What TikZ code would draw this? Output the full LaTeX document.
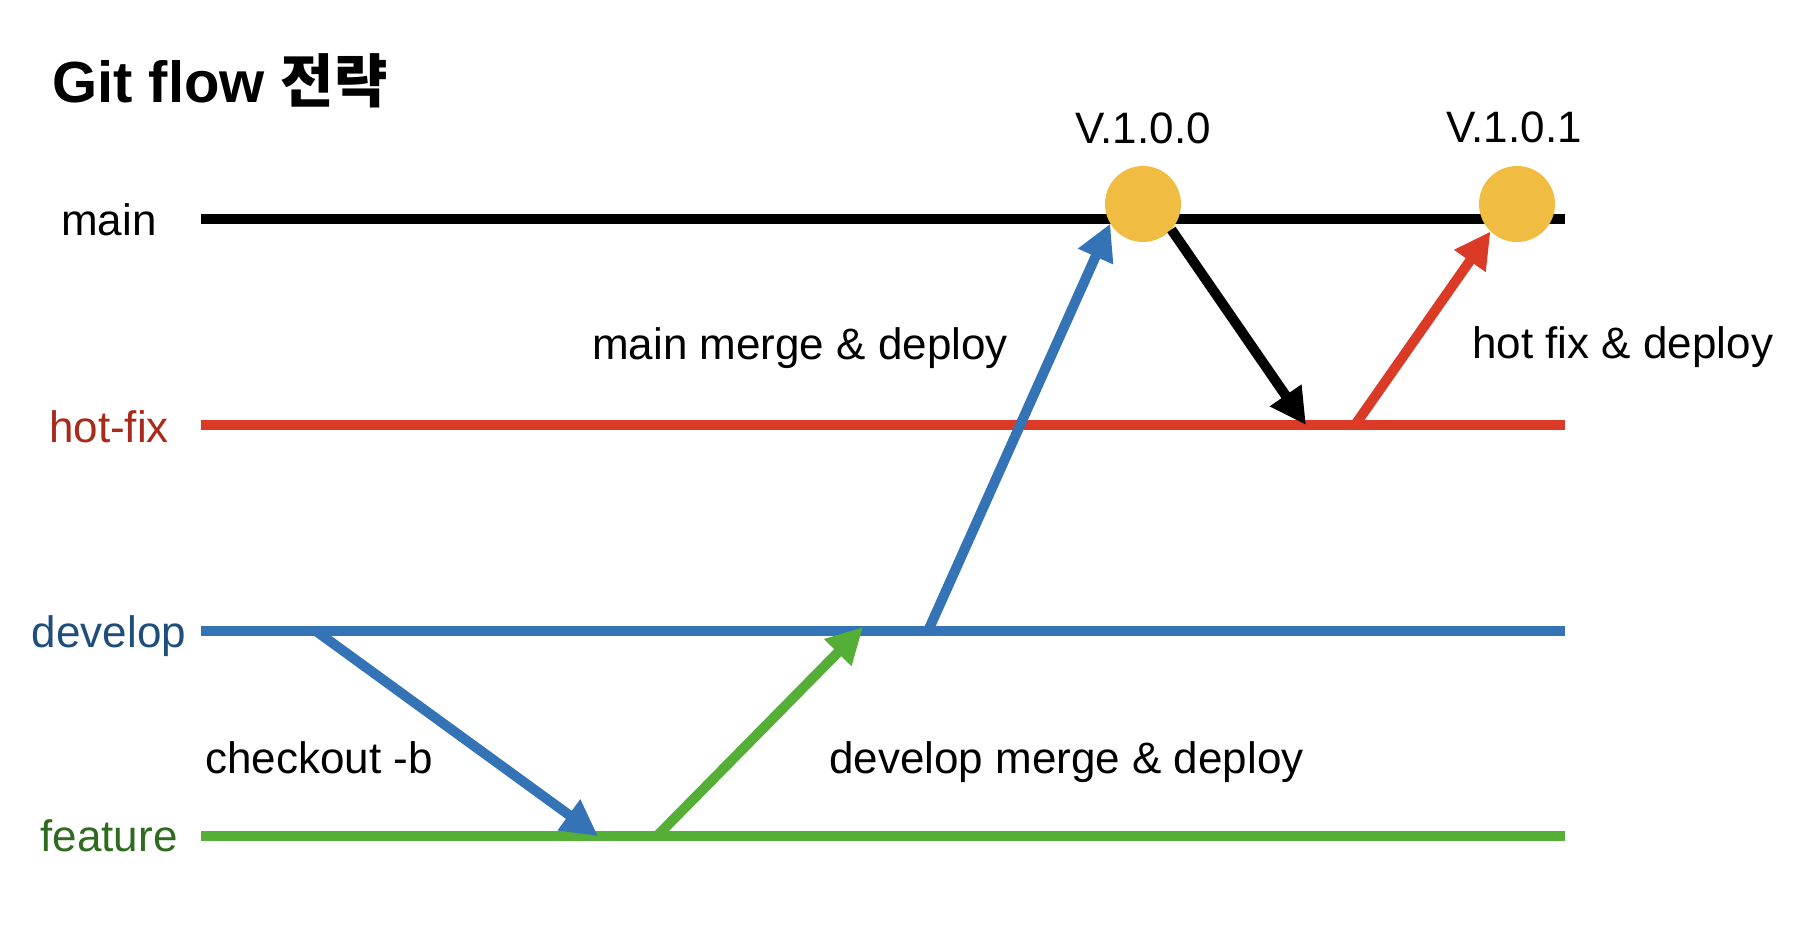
\documentclass[tikz,border=0pt]{standalone}
\usepackage{fontspec}
\setmainfont{Liberation Sans}
\newfontfamily\kr{Noto Sans CJK KR}
\usetikzlibrary{arrows.meta}
\definecolor{hfred}{HTML}{DB3A27}
\definecolor{devblue}{HTML}{3474B6}
\definecolor{featgreen}{HTML}{55AE36}
\definecolor{tagyellow}{HTML}{F0BC41}
\definecolor{hflabel}{HTML}{A9291A}
\definecolor{devlabel}{HTML}{1F4E7C}
\definecolor{featlabel}{HTML}{2E6B1E}
\begin{document}
\begin{tikzpicture}[x=1pt,y=-1pt,
  branchline/.style={line width=10pt},
  flow/.style={line width=10pt,-{Triangle[length=36pt,width=36pt]}},
  txt/.style={inner sep=0pt,font=\fontsize{44}{52}\selectfont},
  branchlabel/.style={txt,anchor=base},
  note/.style={txt,anchor=base west},
  tag/.style={circle,fill=tagyellow,minimum size=76pt,inner sep=0pt}]
\useasboundingbox (0,0) rectangle (1818,938);

% title
\node[anchor=base west,inner sep=0pt,font=\fontsize{58}{66}\selectfont\bfseries] (title) at (52,102) {Git flow {\kr\bfseries 전략}};

% branch labels
\node[branchlabel] (lmain) at (109,235) {main};
\node[branchlabel,text=hflabel] (lhf) at (109,442) {hot-fix};
\node[branchlabel,text=devlabel] (ldev) at (109,647) {develop};
\node[branchlabel,text=featlabel] (lfeat) at (109,851) {feature};

% branch lines
\coordinate (mainS) at (201,219); \coordinate (mainE) at (1565,219);
\coordinate (hfS) at (201,425);   \coordinate (hfE) at (1565,425);
\coordinate (devS) at (201,631);  \coordinate (devE) at (1565,631);
\coordinate (featS) at (201,836); \coordinate (featE) at (1565,836);
\draw[branchline,black] (mainS) -- (mainE);
\draw[branchline,hfred] (hfS) -- (hfE);
\draw[branchline,devblue] (devS) -- (devE);
\draw[branchline,featgreen] (featS) -- (featE);

% version tags
\node[tag] (v100) at (1143,204) {};
\node[tag] (v101) at (1517,204) {};
\node[txt,anchor=base] (lv100) at (1143,143) {V.1.0.0};
\node[txt,anchor=base] (lv101) at (1514,142) {V.1.0.1};

% arrow end points on branches
\coordinate (coS) at (316,631);
\coordinate (coE) at (598,836);
\coordinate (dmS) at (657,836);
\coordinate (dmE) at (863,627);
\coordinate (mmS) at (928,631);
\coordinate (hfIn) at (1306,425);
\coordinate (hfOut) at (1355,425);

% flows
\draw[flow,devblue] (coS) -- (coE);
\draw[flow,featgreen] (dmS) -- (dmE);
\draw[flow,devblue] (mmS) -- (v100.211);
\draw[flow,black] (v100.-42) -- (hfIn);
\draw[flow,hfred] (hfOut) -- (v101.226);

% flow labels
\node[note] (nmm) at (592,359) {main merge \& deploy};
\node[note] (nhf) at (1472,358) {hot fix \& deploy};
\node[note] (nco) at (205,773) {checkout -b};
\node[note] (ndm) at (829,773) {develop merge \& deploy};
\end{tikzpicture}
\end{document}
